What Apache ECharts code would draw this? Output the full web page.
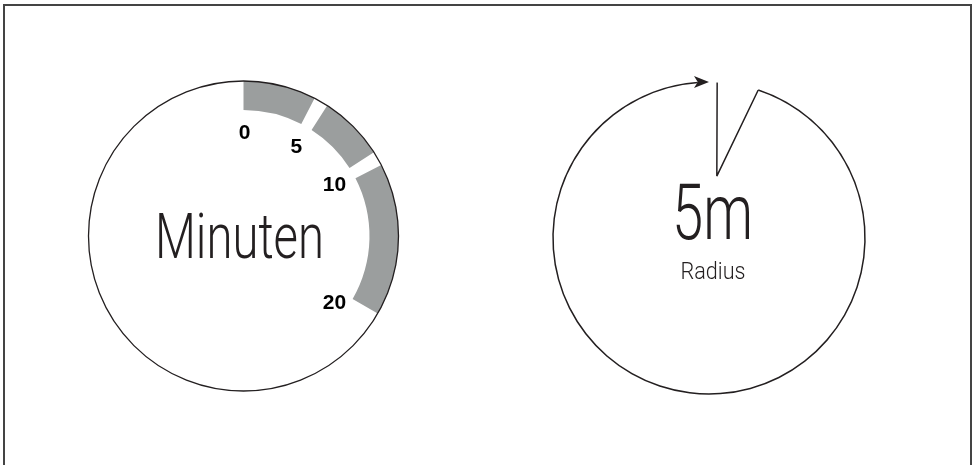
<!DOCTYPE html>
<html><head><meta charset="utf-8">
<script src="https://cdn.jsdelivr.net/npm/echarts@6/dist/echarts.min.js"></script>
<style>
html,body{margin:0;padding:0;background:#fff;}
#chart{position:absolute;left:0;top:0;width:977px;height:465px;}
#frame{position:absolute;left:3px;top:4px;width:969px;height:480px;border:2px solid #444;box-sizing:border-box;pointer-events:none;}
</style></head><body>
<div id="chart"></div><div id="frame"></div>
<script>
// ---- data ----
const minuteSegments = [[0, 5], [5, 10], [10, 20]];   // grey bands, minutes
const minuteTicks = [0, 5, 10, 20];                    // tick labels
const dialMinutes = 60;                                // full dial
const centerTitle = 'Minuten';
const radiusValue = 5;                                 // metres
const radiusTitle = '5m';
const radiusSub = 'Radius';
const wedgePoints = [[5, 3], [2, 7.2], [5, 18.4]];     // [radius m, angle deg]
const arcEnd = 360;                                    // arc ends at top (deg)

// ---- styles ----
const INK = '#231f20';
const GREY = '#9b9e9e';
const GAP = 0.9;           // minutes of white gap between bands
const C1 = [243.5, 236], R1 = 155;
const C2 = [709, 238], R2 = 156;
const ARROW_LEN = 15, ARROW_W = 9;

const pieData = [];
let cursor = 0;
minuteSegments.forEach(([s, e], i) => {
  const a = i === 0 ? s : s + GAP / 2;
  const b = i === minuteSegments.length - 1 ? e : e - GAP / 2;
  if (a > cursor) pieData.push({ value: a - cursor, itemStyle: { color: 'rgba(0,0,0,0)' } });
  pieData.push({ value: b - a, itemStyle: { color: GREY } });
  cursor = b;
});
pieData.push({ value: dialMinutes - cursor, itemStyle: { color: 'rgba(0,0,0,0)' } });

// arc stops at the notch of the arrow head (arrow tip sits at arcEnd)
const arrowNotchDeg = (ARROW_LEN * 0.75) / R2 * 180 / Math.PI;
const wedgeLast = wedgePoints[wedgePoints.length - 1];

const labelData = minuteTicks.map(t => {
  const d = { value: [0.67, t] };
  if (t === 20) d.label = { offset: [1, 15] };
  return d;
});

const chart = echarts.init(document.getElementById('chart'), null, { renderer: 'canvas' });
chart.setOption({
  animation: false,
  polar: [
    { center: C1, radius: R1 },
    { center: C2, radius: R2 }
  ],
  angleAxis: [
    { polarIndex: 0, type: 'value', min: 0, max: dialMinutes, startAngle: 90, clockwise: true, z: 10,
      axisLine: { show: true, lineStyle: { color: INK, width: 1.3 } },
      axisTick: { show: false }, axisLabel: { show: false }, splitLine: { show: false } },
    { polarIndex: 1, type: 'value', min: 0, max: 360, startAngle: 90, clockwise: true,
      axisLine: { show: false }, axisTick: { show: false }, axisLabel: { show: false }, splitLine: { show: false } }
  ],
  radiusAxis: [
    { polarIndex: 0, type: 'value', min: 0, max: 1, show: false, splitLine: { show: false } },
    { polarIndex: 1, type: 'value', min: 0, max: radiusValue, show: false, splitLine: { show: false } }
  ],
  graphic: [
    { type: 'text', x: C1[0] - 4, y: 242, scaleX: 0.75, silent: true,
      style: { text: centerTitle, font: '300 63px Roboto', fill: INK, align: 'center', verticalAlign: 'middle' } },
    { type: 'text', x: 712.5, y: 219, scaleX: 0.72, silent: true,
      style: { text: radiusTitle, font: '300 78px Roboto', fill: INK, align: 'center', verticalAlign: 'middle' } },
    { type: 'text', x: 713, y: 273, scaleX: 0.9, silent: true,
      style: { text: radiusSub, font: '300 24px Roboto', fill: INK, align: 'center', verticalAlign: 'middle' } }
  ],
  series: [
    { type: 'pie', center: C1, radius: [126, R1], startAngle: 90, clockwise: true, silent: true, z: 2,
      label: { show: false }, labelLine: { show: false }, emphasis: { disabled: true },
      itemStyle: { borderWidth: 0 }, data: pieData },
    { type: 'scatter', coordinateSystem: 'polar', polarIndex: 0, symbolSize: 0, silent: true, z: 12,
      itemStyle: { opacity: 1 },
      label: { show: true, position: 'inside', formatter: p => String(p.value[1]), opacity: 1,
        fontFamily: 'Liberation Sans', fontWeight: 'bold', fontSize: 21, color: '#000', offset: [1, 1] },
      data: labelData },
    { type: 'line', coordinateSystem: 'polar', polarIndex: 1, symbol: 'none', silent: true,
      lineStyle: { color: INK, width: 1.5 }, data: wedgePoints },
    { type: 'scatter', coordinateSystem: 'polar', polarIndex: 1, symbol: 'arrow', symbolSize: [ARROW_W, ARROW_LEN],
      symbolRotate: -90, silent: true, itemStyle: { color: INK, opacity: 1 }, z: 5,
      data: [[radiusValue, arcEnd]] },
    { type: 'gauge', center: C2, radius: R2 + 0.75, min: 0, max: 1, silent: true,
      startAngle: 90 - wedgeLast[1], endAngle: 90 - (arcEnd - arrowNotchDeg),
      axisLine: { lineStyle: { width: 1.5, color: [[1, INK]] } },
      splitLine: { show: false }, axisTick: { show: false }, axisLabel: { show: false },
      pointer: { show: false }, anchor: { show: false }, progress: { show: false },
      title: { show: false }, detail: { show: false }, data: [] }
  ]
});
</script>
</body></html>
